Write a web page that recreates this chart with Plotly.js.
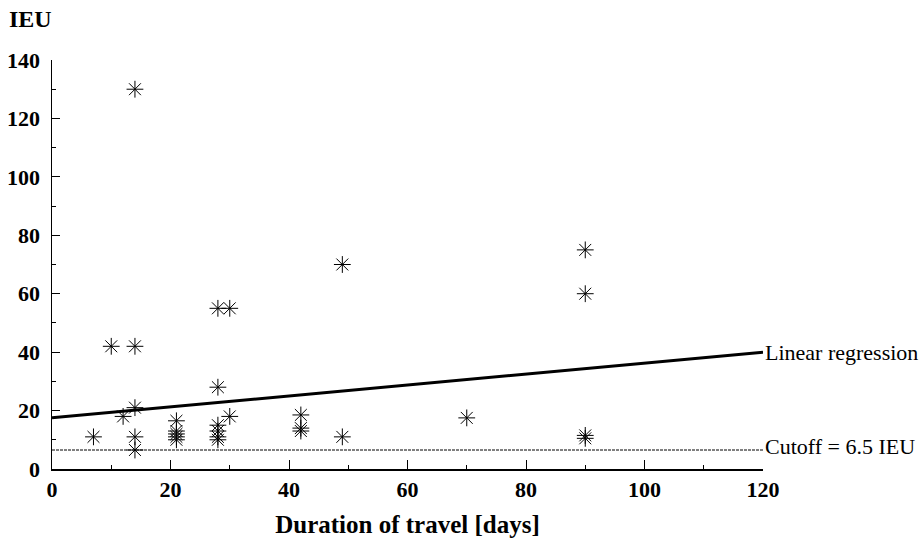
<!DOCTYPE html>
<html>
<head>
<meta charset="utf-8">
<script src="https://cdn.plot.ly/plotly-3.0.1.min.js"></script>
<style>
html,body{margin:0;padding:0;background:#fff;}
#chart{width:924px;height:538px;}
</style>
</head>
<body>
<div id="chart"></div>
<script>
// Observed data: duration of travel (days) vs IEU
var durationDays = [7, 10, 12, 14, 14, 14, 14, 14, 21, 21, 21, 21, 21, 28, 30, 28, 28, 28, 28, 28, 30, 42, 42, 42, 49, 49, 70, 90, 90, 90, 90];
var ieuValues    = [11, 42, 18, 130, 42, 21, 11, 6.5, 16.5, 13, 12, 11, 10, 55, 55, 28, 15, 13, 11, 10, 18, 18.5, 14, 13, 70, 11, 17.5, 75, 60, 11.5, 10.5];

// Linear regression line endpoints
var regressionX = [0, 120];
var regressionY = [17.5, 40];

// Cutoff line
var cutoffX = [0, 120];
var cutoffY = [6.5, 6.5];

var xTicks = [0, 20, 40, 60, 80, 100, 120];
var yTicks = [0, 20, 40, 60, 80, 100, 120, 140];

var serif = "Liberation Serif";

var traces = [
  {
    x: cutoffX, y: cutoffY, mode: 'lines', type: 'scatter',
    line: {color: '#000', width: 1, dash: '3px,1px'}, hoverinfo: 'skip', showlegend: false
  },
  {
    x: regressionX, y: regressionY, mode: 'lines', type: 'scatter',
    line: {color: '#000', width: 3}, showlegend: false
  },
  {
    x: durationDays, y: ieuValues, mode: 'markers', type: 'scatter',
    marker: {symbol: 'asterisk-open', size: 14, color: '#000', line: {color: '#000', width: 1}},
    showlegend: false
  }
];

var layout = {
  width: 924, height: 538,
  margin: {l: 52, r: 161, t: 60, b: 69},
  paper_bgcolor: '#fff', plot_bgcolor: '#fff',
  showlegend: false,
  font: {family: serif, color: '#000'},
  xaxis: {
    range: [0, 120], tickvals: xTicks, ticktext: xTicks.map(function(v){return '<b>' + v + '</b>';}),
    showgrid: false, zeroline: false, showline: true, linecolor: '#000', linewidth: 1.5,
    ticks: 'inside', ticklen: 9, tickwidth: 1, tickcolor: '#000',
    minor: {dtick: 10, tick0: 0, ticks: 'inside', ticklen: 4, tickcolor: '#000', showgrid: false},
    tickfont: {family: serif, size: 22, color: '#000'},
    title: {text: '<b>Duration of travel [days]</b>', font: {family: serif, size: 25, color: '#000'}, standoff: 14},
    fixedrange: true
  },
  yaxis: {
    range: [0, 140], tickvals: yTicks, ticktext: yTicks.map(function(v){return '<b>' + v + '</b>';}),
    showgrid: false, zeroline: false, showline: true, linecolor: '#000', linewidth: 1.5,
    ticks: 'inside', ticklen: 8, tickwidth: 1, tickcolor: '#000',
    minor: {dtick: 10, tick0: 0, ticks: 'inside', ticklen: 4, tickcolor: '#000', showgrid: false},
    tickfont: {family: serif, size: 22, color: '#000'},
    ticklabelstandoff: 6,
    fixedrange: true
  },
  annotations: [
    {
      text: '<b>IEU</b>', xref: 'paper', yref: 'paper', x: -0.063, y: 1.10,
      xanchor: 'left', yanchor: 'middle', showarrow: false,
      font: {family: serif, size: 24, color: '#000'}
    },
    {
      text: 'Linear regression', xref: 'x', yref: 'y', x: 120, y: 40,
      xanchor: 'left', yanchor: 'middle', showarrow: false, xshift: 0,
      font: {family: serif, size: 22, color: '#000'}
    },
    {
      text: 'Cutoff = 6.5 IEU', xref: 'x', yref: 'y', x: 120, y: 6.5,
      xanchor: 'left', yanchor: 'middle', showarrow: false, xshift: 0, yshift: 4,
      font: {family: serif, size: 22, color: '#000'}
    }
  ]
};

Plotly.newPlot('chart', traces, layout, {displayModeBar: false, staticPlot: true});
</script>
</body>
</html>
